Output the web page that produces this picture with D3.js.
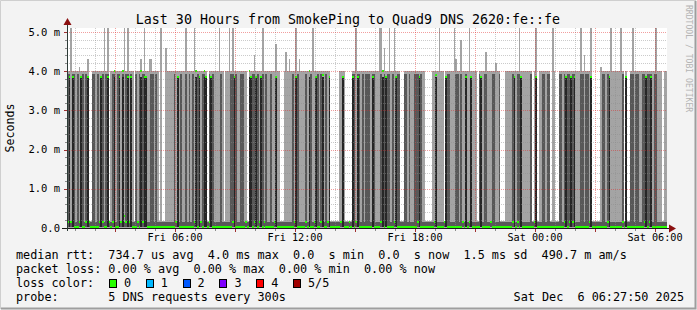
<!DOCTYPE html>
<html>
<head>
<meta charset="utf-8">
<script src="https://cdn.jsdelivr.net/npm/d3@7"></script>
<style>
  html, body { margin: 0; padding: 0; background: #f3f3f3; }
  svg { display: block; font-family: "DejaVu Sans Mono", monospace; }
  text { white-space: pre; }
</style>
</head>
<body>
<svg id="chart" width="697" height="310"></svg>
<script>
// 30 hours of 5 minute slots, Fri Dec 5 00:36 -> Sat Dec 6 06:36
const START = new Date(2025, 11, 5, 0, 36);
const STEP = 5;

// one char per slot: "." all pings low, "l" one slow ping, "m" two slow pings
const slotCodes = [
  "mmlmmlmllmlml..mmlmllmlmm.lmml",
  "mmlmlmmlml.mlmlmmlllmmlml....l",
  "llllmlllmllmlmlmllmllmm..mlmll",
  "llml.lllmmlmllmmll...mmlmllmlm",
  "llmll.ll..lllllmllmllllmllmlll",
  "mlmllmll.....llll....mmlmmlmlm",
  "mmlmmlllmlmlmmlmllmm..mmlmllmm",
  "mlmll....lllllll..mmlllmmlmllm",
  "ll.lll.mllmmlllmmllm...llllmll",
  "mmllllllm.ll.llmmlmm..l..mmlml",
  "mmlmmlllmmlmmll......mmlmlllll",
  "lllm....mmlmmllmmlmmmlmmlll.ll"
].join("");

// slots where the median sits high (near 4 ms)
const medianHigh = [
  [1, 3.85], [3, 3.85], [8, 3.85], [12, 3.85], [20, 3.85], [24, 3.85], [28, 4.0],
  [31, 3.85], [33, 4.0], [36, 3.85], [38, 3.85], [44, 4.0], [46, 3.85], [47, 3.85],
  [66, 3.85], [77, 4.0], [79, 3.85], [82, 4.0], [83, 3.85], [86, 3.85], [100, 3.85],
  [109, 4.0], [110, 3.85], [113, 3.85], [116, 3.85], [125, 3.85], [137, 3.85],
  [145, 4.0], [149, 3.85], [153, 3.9], [157, 3.85], [165, 3.85], [171, 3.85],
  [174, 3.85], [183, 3.85], [189, 4.0], [191, 3.85], [197, 3.85], [211, 3.85],
  [221, 3.9], [227, 3.85], [239, 3.85], [242, 3.85], [248, 3.85], [268, 3.85],
  [272, 3.85], [281, 3.85], [299, 3.85], [302, 3.85], [304, 3.85], [314, 3.85],
  [325, 3.85], [335, 3.85], [347, 3.85], [350, 3.85]
];

// slots where the median sits just above the floor
const medianMid = [
  [0, 0.15], [2, 0.15], [7, 0.15], [11, 0.15], [13, 0.15], [19, 0.15], [21, 0.15],
  [25, 0.15], [27, 0.15], [32, 0.15], [34, 0.3], [35, 0.15], [37, 0.15], [42, 0.15],
  [45, 0.15], [65, 0.15], [76, 0.15], [80, 0.15], [85, 0.15], [99, 0.15], [107, 0.15],
  [112, 0.15], [115, 0.15], [118, 0.15], [124, 0.15], [136, 0.15], [143, 0.15],
  [148, 0.15], [152, 0.15], [156, 0.15], [164, 0.15], [169, 0.15], [173, 0.15],
  [188, 0.15], [196, 0.15], [210, 0.15], [220, 0.15], [226, 0.15], [237, 0.15],
  [241, 0.15], [254, 0.15], [267, 0.15], [270, 0.15], [280, 0.15], [298, 0.15],
  [301, 0.15], [303, 0.15], [313, 0.15], [324, 0.15], [333, 0.15], [346, 0.15],
  [349, 0.15]
];

// slowest ping where it goes past 4 ms
const spikes = [
  [2, 5.2], [7, 4.1], [12, 4.3], [22, 5.2], [24, 5.2], [34, 5.2], [36, 5.2], [44, 4.3],
  [46, 5.2], [49, 4.3], [50, 4.3], [56, 5.2], [59, 4.6], [71, 5.2], [76, 5.2], [91, 5.2],
  [97, 5.2], [99, 5.2], [112, 4.4], [117, 5.2], [125, 4.7], [131, 4.5], [133, 4.3],
  [137, 5.2], [139, 4.3], [147, 5.2], [173, 5.2], [187, 5.2], [188, 5.2], [190, 4.6],
  [193, 5.2], [196, 5.2], [223, 5.2], [232, 5.2], [233, 4.3], [236, 4.8], [241, 5.2],
  [251, 4.5], [257, 4.2], [271, 5.2], [281, 5.2], [291, 5.2], [308, 5.2], [310, 4.4],
  [314, 5.2], [320, 4.1], [326, 5.2], [332, 5.2], [339, 5.2], [353, 5.2]
];

const yTicks = [0, 1, 2, 3, 4, 5];
const yTickLabels = ["0.0", "1.0 m", "2.0 m", "3.0 m", "4.0 m", "5.0 m"];
const xTickTimes = [
  new Date(2025, 11, 5, 6), new Date(2025, 11, 5, 12), new Date(2025, 11, 5, 18),
  new Date(2025, 11, 6, 0), new Date(2025, 11, 6, 6)
];
const xTickLabels = ["Fri 06:00", "Fri 12:00", "Fri 18:00", "Sat 00:00", "Sat 06:00"];

const lossLabels = ["0", "1", "2", "3", "4", "5/5"];
const lossColors = ["#26ff00", "#00b8ff", "#0059ff", "#7e00ff", "#ff0000", "#a00000"];

const legendRows = [
  "median rtt:  734.7 us avg  4.0 ms max  0.0  s min  0.0  s now  1.5 ms sd  490.7 m am/s",
  "packet loss: 0.00 % avg  0.00 % max  0.00 % min  0.00 % now",
  "loss color:",
  "probe:       5 DNS requests every 300s"
];
const stamp = "Sat Dec  6 06:27:50 2025";

const END = d3.timeMinute.offset(START, slotCodes.length * STEP);

const svg = d3.select("#chart");
const x = d3.scaleTime().domain([START, END]).range([67, 667]);
const y = d3.scaleLinear().domain([0, 5.1]).range([228, 28]);

const highMap = new Map(medianHigh);
const midMap = new Map(medianMid);
const spikeMap = new Map(spikes);

const slots = Array.from(slotCodes, (code, i) => {
  const t0 = d3.timeMinute.offset(START, i * STEP);
  const t1 = d3.timeMinute.offset(t0, STEP);
  const high = highMap.has(i);
  const top = Math.min(5.1, spikeMap.get(i) ?? (code === "." && !high ? 0.17 : 4.0));
  const innerTop = code === "m" ? 3.92 : 0.15;
  const median = highMap.get(i) ?? midMap.get(i) ?? 0.02;
  return {
    code, high, top, innerTop, median,
    x0: Math.round(x(t0)), x1: Math.round(x(t1))
  };
});

// frame + canvas
svg.append("rect").attr("width", 697).attr("height", 310).attr("fill", "#f3f3f3");
svg.append("path").attr("d", "M0.5,309V0.5H696").attr("fill", "none").attr("stroke", "#cfcfcf");
svg.append("path").attr("d", "M1,308.5H695.5V1").attr("fill", "none").attr("stroke", "#9e9e9e").attr("stroke-width", 2);
svg.append("rect").attr("x", 67).attr("y", 28).attr("width", 600).attr("height", 200).attr("fill", "#fff");

const plot = svg.append("g").attr("shape-rendering", "crispEdges");

// smoke: outer range light, inner range darker
plot.selectAll(".outer").data(slots).join("rect").attr("class", "outer")
  .attr("x", d => d.x0).attr("width", d => d.x1 - d.x0)
  .attr("y", d => y(d.top)).attr("height", d => y(0) - y(d.top))
  .attr("fill", "#a4a4a4");

plot.selectAll(".inner").data(slots).join("rect").attr("class", "inner")
  .attr("x", d => d.x0).attr("width", d => d.x1 - d.x0)
  .attr("y", d => y(d.innerTop)).attr("height", d => y(0.02) - y(d.innerTop))
  .attr("fill", "#585858");

plot.selectAll(".dark").data(slots.filter(d => d.high)).join("rect").attr("class", "dark")
  .attr("x", d => d.x0).attr("width", d => d.x1 - d.x0)
  .attr("y", y(3.85)).attr("height", y(0.02) - y(3.85))
  .attr("fill", "#262626");

// median marks
plot.selectAll(".median").data(slots).join("rect").attr("class", "median")
  .attr("x", d => d.x0).attr("width", d => d.x1 - d.x0)
  .attr("y", d => y(d.median) - 1).attr("height", 2)
  .attr("fill", lossColors[0]);

// grid on top of the data
const grid = svg.append("g").attr("shape-rendering", "crispEdges").attr("stroke-dasharray", "1,1");
const minorY = d3.range(1, 26).map(v => v / 5).filter(v => Math.abs(v - Math.round(v)) > 1e-6);
grid.selectAll(".gy").data(minorY).join("line")
  .attr("x1", 67).attr("x2", 667).attr("y1", d => Math.round(y(d)) + 0.5).attr("y2", d => Math.round(y(d)) + 0.5)
  .attr("stroke", "rgba(140,140,140,0.45)");
const hours = d3.timeHour.range(d3.timeMinute.offset(START, 1), END);
grid.selectAll(".gx").data(hours.filter(h => h.getHours() % 3 !== 0)).join("line")
  .attr("y1", 28).attr("y2", 228).attr("x1", d => Math.round(x(d)) + 0.5).attr("x2", d => Math.round(x(d)) + 0.5)
  .attr("stroke", "rgba(140,140,140,0.45)");
grid.selectAll(".my").data(yTicks.slice(1)).join("line")
  .attr("x1", 67).attr("x2", 667).attr("y1", d => Math.round(y(d)) + 0.5).attr("y2", d => Math.round(y(d)) + 0.5)
  .attr("stroke", "rgba(225,40,40,0.45)");
grid.selectAll(".mx").data(hours.filter(h => h.getHours() % 3 === 0)).join("line")
  .attr("y1", 28).attr("y2", 228).attr("x1", d => Math.round(x(d)) + 0.5).attr("x2", d => Math.round(x(d)) + 0.5)
  .attr("stroke", "rgba(225,40,40,0.45)");

// ticks on the axes
const ticks = svg.append("g").attr("shape-rendering", "crispEdges");
ticks.selectAll(".ty").data(minorY).join("line")
  .attr("x1", 65).attr("x2", 67).attr("y1", d => Math.round(y(d)) + 0.5).attr("y2", d => Math.round(y(d)) + 0.5)
  .attr("stroke", "#8c8c8c");
ticks.selectAll(".tyM").data(yTicks.slice(1)).join("line")
  .attr("x1", 64).attr("x2", 67).attr("y1", d => Math.round(y(d)) + 0.5).attr("y2", d => Math.round(y(d)) + 0.5)
  .attr("stroke", "#a03030");
ticks.selectAll(".tx").data(hours).join("line")
  .attr("y1", 229).attr("y2", d => d.getHours() % 3 === 0 ? 232 : 231)
  .attr("x1", d => Math.round(x(d)) + 0.5).attr("x2", d => Math.round(x(d)) + 0.5)
  .attr("stroke", d => d.getHours() % 3 === 0 ? "#a03030" : "#8c8c8c");

// axes + arrows
const axis = svg.append("g").attr("shape-rendering", "crispEdges");
axis.append("line").attr("x1", 62).attr("x2", 670).attr("y1", 228.5).attr("y2", 228.5).attr("stroke", "#1a1a1a");
axis.append("line").attr("x1", 67.5).attr("x2", 67.5).attr("y1", 231).attr("y2", 24).attr("stroke", "#2c3a36");
svg.append("path").attr("d", "M669,224.5L676,228.5L669,232.5Z").attr("fill", "#8b1010");
svg.append("path").attr("d", "M63.5,25L67.5,18L71.5,25Z").attr("fill", "#8b1010");

// y labels
svg.append("g").selectAll("text").data(yTicks).join("text")
  .attr("x", 60).attr("y", d => y(d)).attr("dy", "0.35em")
  .attr("text-anchor", "end").attr("font-size", 10.5).attr("fill", "#000")
  .text((d, i) => yTickLabels[i]);

// x labels
svg.append("g").selectAll("text").data(xTickTimes).join("text")
  .attr("x", d => x(d)).attr("y", 241)
  .attr("text-anchor", "middle").attr("font-size", 10.2).attr("fill", "#000")
  .text((d, i) => xTickLabels[i]);

// title, axis title, watermark
svg.append("text").attr("x", 348).attr("y", 24).attr("text-anchor", "middle")
  .attr("font-size", 13.3).text("Last 30 Hours from SmokePing to Quad9 DNS 2620:fe::fe");
svg.append("text").attr("transform", "translate(14,128) rotate(-90)").attr("text-anchor", "middle")
  .attr("font-size", 11.6).text("Seconds");
svg.append("text").attr("transform", "translate(686,5) rotate(90)")
  .attr("font-size", 8.1).attr("fill", "#b4b4b4").text("RRDTOOL / TOBI OETIKER");

// legend
const legend = svg.append("g").attr("font-size", 11.8);
const rowY = [259, 273, 287, 300.5];
legend.selectAll(".row").data(legendRows).join("text").attr("class", "row")
  .attr("x", 16).attr("y", (d, i) => rowY[i]).text(d => d);
legend.append("text").attr("x", 684).attr("y", rowY[3]).attr("text-anchor", "end").text(stamp);

const lossX = d3.scalePoint().domain(lossLabels).range([109, 293]);
const boxes = legend.selectAll(".loss").data(lossLabels).join("g").attr("class", "loss")
  .attr("transform", d => `translate(${lossX(d)},${rowY[2] - 8})`);
boxes.append("rect").attr("x", 0.5).attr("y", 0.5).attr("width", 7).attr("height", 8)
  .attr("fill", (d, i) => lossColors[i]).attr("stroke", "#000").attr("shape-rendering", "crispEdges");
boxes.append("text").attr("x", 15).attr("y", 8).text(d => d);
</script>
</body>
</html>
